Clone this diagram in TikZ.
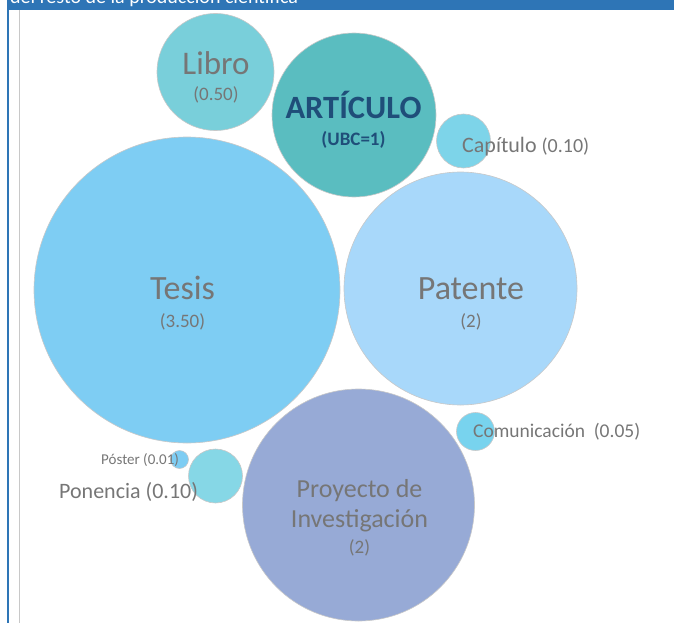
\documentclass[tikz,border=0pt]{standalone}
\usepackage{fontspec}
\setmainfont{Carlito}
\definecolor{bannerblue}{HTML}{2E75B6}
\definecolor{lblgray}{HTML}{767676}
\definecolor{artblue}{HTML}{1F4E79}
\definecolor{cLibro}{HTML}{79CFDA}
\definecolor{cArt}{HTML}{5ABDC0}
\definecolor{cCap}{HTML}{7DD4E9}
\definecolor{cTesis}{HTML}{7ECDF3}
\definecolor{cPat}{HTML}{A8D8FA}
\definecolor{cCom}{HTML}{78D3EE}
\definecolor{cProy}{HTML}{97AAD6}
\definecolor{cPon}{HTML}{86D7E6}
\definecolor{rimgray}{HTML}{C8C8C8}
\newcommand{\fsz}[1]{\fontsize{#1}{#1}\selectfont}
\tikzset{
  bubble/.style={circle, draw=rimgray, line width=0.6pt, inner sep=0pt, minimum size=#1},
  lbl/.style={inner sep=0pt, anchor=base, text=lblgray},
  lblw/.style={inner sep=0pt, anchor=base west, text=lblgray},
}
\begin{document}
\begin{tikzpicture}[x=1pt,y=-1pt]
\useasboundingbox (0,0) rectangle (674,623);
% banner
\fill[bannerblue] (8,0) rectangle (674,10.5);
\begin{scope}
\clip (8,0) rectangle (674,10.5);
\node[inner sep=0pt, anchor=base west, text=white] (banner) at (10,4) {\fsz{20}del resto de la producción científica};
\end{scope}
\draw[bannerblue, line width=1.5pt] (8,0) -- (8,623);
\draw[rimgray, line width=1pt] (19.5,10.5) -- (19.5,623);
% bubbles
\node[bubble=306pt, fill=cTesis] (tesis) at (187,290) {};
\node[bubble=233pt, fill=cPat] (pat) at (460.5,288.5) {};
\node[bubble=232pt, fill=cProy] (proy) at (358.5,505) {};
\node[bubble=117pt, fill=cLibro] (libro) at (215.5,72) {};
\node[bubble=164pt, fill=cArt] (art) at (354,115) {};
\node[bubble=54pt, fill=cCap] (cap) at (463.5,141) {};
\node[bubble=38pt, fill=cCom] (com) at (475.5,431.5) {};
\node[bubble=18pt, fill=cTesis] (poster) at (179.5,459.5) {};
\node[bubble=54pt, fill=cPon] (pon) at (215.5,476) {};
% labels
\node[lbl] (tLibro) at (216,75) {\fsz{33}Libro};
\node[lbl] (vLibro) at (216,101) {\fsz{19}(0.50)};
\node[lbl, text=artblue] (tArt) at (353.5,118) {\fsz{32.5}\bfseries ARTÍCULO};
\node[lbl, text=artblue] (vArt) at (353.5,146) {\fsz{19}\bfseries (UBC=1)};
\node[lblw] (tCap) at (462,152) {\fsz{22}Capítulo \fsz{20}(0.10)};
\node[lbl] (tTesis) at (182.5,299) {\fsz{34}Tesis};
\node[lbl] (vTesis) at (182.5,327) {\fsz{19}(3.50)};
\node[lbl] (tPat) at (471,299) {\fsz{34}Patente};
\node[lbl] (vPat) at (471,327) {\fsz{19}(2)};
\node[lblw] (tCom) at (473,437) {\fsz{19.5}Comunicación\hspace{0.45em}(0.05)};
\node[lblw] (tPoster) at (101,464) {\fsz{15}Póster (0.01)};
\node[lblw] (tPon) at (59,498) {\fsz{22}Ponencia (0.10)};
\node[lbl] (tProy1) at (359.5,497) {\fsz{26}Proyecto de};
\node[lbl] (tProy2) at (359.5,527) {\fsz{26}Investigación};
\node[lbl] (vProy) at (359.5,553) {\fsz{19}(2)};
\end{tikzpicture}
\end{document}
